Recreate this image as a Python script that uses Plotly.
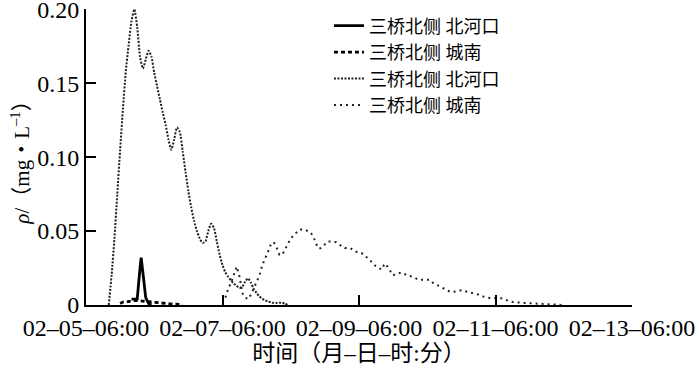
import pandas as pd
import plotly.graph_objects as go

# ---- data ----
start_time = "2020-02-05 06:00"   # 02-05-06:00, hours below are offsets from it

s1_name = "三桥北侧 北河口"
s1_hours = [16, 18, 19, 19.4, 20, 21, 22, 23]
s1_vals = [0.004, 0.004, 0.025, 0.032, 0.022, 0.005, 0.001, 0.0]

s2_name = "三桥北侧 城南"
s2_hours = [12, 13, 14, 15, 16, 17, 18, 19, 20, 21, 22, 23, 24, 25, 26, 27, 28, 29, 30, 31, 32, 33, 34]
s2_vals = [0.001, 0.002, 0.002, 0.0025, 0.003, 0.003, 0.003, 0.0028, 0.0025, 0.0025, 0.002, 0.002,
           0.0018, 0.0015, 0.0012, 0.001, 0.001, 0.0008, 0.0006, 0.0005, 0.0005, 0.0003, 0.0]

s3_name = "三桥北侧 北河口"
s3_hours = list(range(8, 72))
s3_vals = [0.0, 0.02, 0.045, 0.075, 0.105, 0.133, 0.158, 0.176, 0.192, 0.2, 0.188, 0.168,
           0.16, 0.166, 0.172, 0.168, 0.157, 0.148, 0.139, 0.13, 0.122, 0.112, 0.105, 0.112,
           0.12, 0.117, 0.104, 0.09, 0.077, 0.066, 0.057, 0.05, 0.045, 0.042, 0.043, 0.05,
           0.055, 0.052, 0.043, 0.034, 0.027, 0.022, 0.019, 0.0165, 0.0145, 0.013, 0.0115, 0.0125,
           0.016, 0.018, 0.015, 0.011, 0.008, 0.0058, 0.0042, 0.0032, 0.0024, 0.0018, 0.0014, 0.0014,
           0.0016, 0.0015, 0.0008, 0.0]

s4_name = "三桥北侧 城南"
s4_hours = list(range(49, 155)) + [158, 163, 168]
s4_vals = [0.005, 0.011, 0.015, 0.02, 0.026, 0.019, 0.008, 0.005, 0.004, 0.007,   # 49-58
           0.011, 0.016, 0.02, 0.027, 0.031, 0.036, 0.041, 0.0425, 0.039, 0.034,    # 59-68
           0.034, 0.038, 0.042, 0.045, 0.047, 0.049, 0.051, 0.051, 0.051, 0.05,     # 69-78
           0.049, 0.046, 0.041, 0.038, 0.039, 0.041, 0.043, 0.043, 0.0428, 0.0425,  # 79-88
           0.041, 0.0395, 0.0385, 0.0385, 0.0385, 0.037, 0.036, 0.035, 0.035, 0.033,  # 89-98
           0.032, 0.03, 0.028, 0.026, 0.025, 0.024, 0.028, 0.026, 0.023, 0.02,      # 99-108
           0.021, 0.0215, 0.022, 0.021, 0.02, 0.0196, 0.019, 0.018, 0.017, 0.017,   # 109-118
           0.017, 0.017, 0.017, 0.015, 0.014, 0.0135, 0.012, 0.011, 0.01, 0.009,    # 119-128
           0.0088, 0.009, 0.0095, 0.01, 0.0095, 0.009, 0.0088, 0.008, 0.0075, 0.007,  # 129-138
           0.006, 0.0055, 0.005, 0.0047, 0.0047, 0.0047, 0.0047, 0.0045, 0.004, 0.003,  # 139-148
           0.0025, 0.002, 0.0018, 0.0016, 0.0015, 0.0014,                             # 149-154
           0.001, 0.0007, 0.0]

x_tick_vals = ["2020-02-05 06:00", "2020-02-07 06:00", "2020-02-09 06:00",
               "2020-02-11 06:00", "2020-02-13 06:00"]
x_tick_text = ["02–05–06:00", "02–07–06:00", "02–09–06:00", "02–11–06:00", "02–13–06:00"]
y_tick_vals = [0, 0.05, 0.10, 0.15, 0.20]
y_tick_text = ["0", "0.05", "0.10", "0.15", "0.20"]


def to_time(hours):
    t0 = pd.Timestamp(start_time)
    return [t0 + pd.Timedelta(hours=h) for h in hours]


SERIF = "Liberation Serif, Noto Sans CJK SC, serif"

fig = go.Figure()
fig.add_trace(go.Scatter(x=to_time(s1_hours), y=s1_vals, name=s1_name, mode="lines",
                         line=dict(color="black", width=2.8)))
fig.add_trace(go.Scatter(x=to_time(s2_hours), y=s2_vals, name=s2_name, mode="lines",
                         line=dict(color="black", width=2.8, dash="4px,3px")))
fig.add_trace(go.Scatter(x=to_time(s3_hours), y=s3_vals, name=s3_name, mode="lines",
                         line=dict(color="#222", width=2, dash="2px,1.5px", shape="spline", smoothing=0.6)))
fig.add_trace(go.Scatter(x=to_time(s4_hours), y=s4_vals, name=s4_name, mode="lines",
                         line=dict(color="#222", width=2, dash="2px,4px")))

fig.update_layout(
    width=700, height=381,
    margin=dict(l=86, r=68, t=9, b=76, autoexpand=False),
    paper_bgcolor="white", plot_bgcolor="white",
    font=dict(family=SERIF, color="black", size=24),
    showlegend=True,
    legend=dict(x=0.445, y=1.005, xanchor="left", yanchor="top",
                bgcolor="rgba(0,0,0,0)", font=dict(size=18, family=SERIF),
                itemwidth=30, tracegroupgap=0),
    xaxis=dict(type="date", range=["2020-02-05 06:00", "2020-02-13 06:00"],
               tickmode="array", tickvals=x_tick_vals, ticktext=x_tick_text,
               ticks="inside", ticklen=10, tickwidth=2, tickcolor="black",
               showline=True, linecolor="black", linewidth=2,
               showgrid=False, zeroline=False, automargin=False,
               ticklabeloverflow="allow",
               tickfont=dict(size=24, family=SERIF),
               title=dict(text="时间（月–日–时:分）", font=dict(size=23, family=SERIF), standoff=4)),
    yaxis=dict(range=[0, 0.2002], tickmode="array", tickvals=y_tick_vals, ticktext=y_tick_text,
               ticks="inside", ticklen=10, tickwidth=2, tickcolor="black",
               showline=True, linecolor="black", linewidth=2,
               showgrid=False, zeroline=False, automargin=False,
               ticklabeloverflow="allow",
               tickfont=dict(size=24, family=SERIF),
               title=dict(text="<i>ρ</i>/（mg・L<sup>–1</sup>）", font=dict(size=21, family=SERIF), standoff=2)),
)

# remove the default 8px page margin so the 700x381 figure fills the window
fig.write_html("out.html", config={"displayModeBar": False},
               post_script="document.body.style.margin='0';")
